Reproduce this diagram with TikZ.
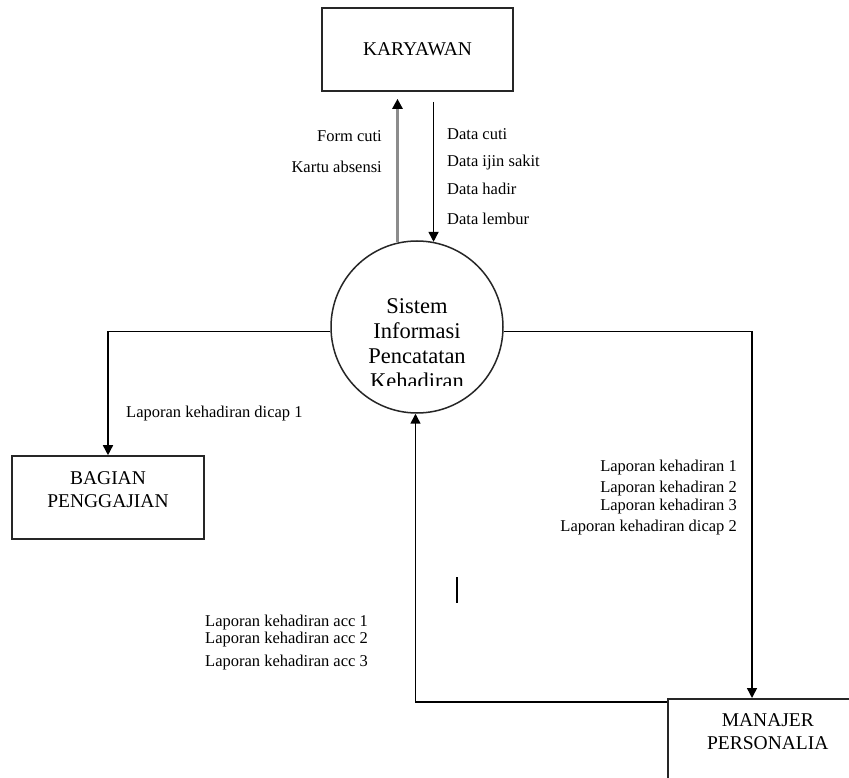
\documentclass[tikz,border=0pt]{standalone}
\usepackage{fontspec}
\setmainfont{Liberation Serif}
\usetikzlibrary{arrows.meta,calc}
\tikzset{
  box/.style={draw=black!85, line width=1.6pt, rectangle, inner sep=0pt},
  big/.style={font=\fontsize{19.5}{23.5}\selectfont},
  lbl/.style={font=\fontsize{16.5}{20}\selectfont, inner sep=0pt},
  flow/.style={line width=1.5pt, -{Triangle[length=10pt,width=10pt]}},
  flowg/.style={draw=black!45, line width=2.8pt, -{Triangle[length=10pt,width=10pt,color=black]}},
}
\begin{document}
\begin{tikzpicture}[x=1pt,y=-1pt]
\useasboundingbox (0,0) rectangle (849,778);
\fill[white] (0,0) rectangle (849,778);

% entities
\node[box,big,minimum width=191pt,minimum height=83pt] (kar) at (417.5,49.5) {KARYAWAN};
\node[box,big,minimum width=192pt,minimum height=83pt,align=center,text depth=16pt] (bag) at (108,497.5) {BAGIAN\\PENGGAJIAN};
\node[box, anchor=north west, minimum width=200pt, minimum height=100pt,
  label={[big, align=center, anchor=north, inner sep=0pt, yshift=-15pt]north:MANAJER\\PERSONALIA}] (man) at (667,698) {};

% process
\node[circle, draw=black!85, line width=1.5pt, minimum size=172pt, inner sep=0pt] (sys) at (417,327) {};
\begin{scope}
  \clip (320,230) rectangle (520,385.5);
  \node[font=\fontsize{22.5}{25}\selectfont, align=center, inner sep=0pt] (systxt) at (417,344) {Sistem\\Informasi\\Pencatatan\\Kehadiran};
\end{scope}

% flows
\draw[flowg, shorten >=7pt] (sys.103) -- (sys.103 |- kar.south);
\draw[flow, shorten <=10pt] (sys.79 |- kar.south) -- (sys.79);
\draw[flow] (sys.183) -| (bag.north);
\coordinate (manin) at (752,698);
\draw[flow] (sys.357) -| (manin);
\coordinate (manout) at (667,702);
\draw[flow] (manout) -| (sys.269);

% labels
\node[lbl, anchor=base east] (l1) at (382,142) {Form cuti};
\node[lbl, anchor=base east] (l2) at (382,173) {Kartu absensi};
\node[lbl, anchor=base west] (l3) at (447,140) {Data cuti};
\node[lbl, anchor=base west] (l4) at (447,167) {Data ijin sakit};
\node[lbl, anchor=base west] (l5) at (447,195) {Data hadir};
\node[lbl, anchor=base west] (l6) at (447,225) {Data lembur};
\node[lbl, anchor=base west] (l7) at (126,417) {Laporan kehadiran dicap 1};
\node[lbl, anchor=base east] (r1) at (737,471) {Laporan kehadiran 1};
\node[lbl, anchor=base east] (r2) at (737,492) {Laporan kehadiran 2};
\node[lbl, anchor=base east] (r3) at (737,510) {Laporan kehadiran 3};
\node[lbl, anchor=base east] (r4) at (737,531) {Laporan kehadiran dicap 2};
\node[lbl, anchor=base west] (a1) at (205,626) {Laporan kehadiran acc 1};
\node[lbl, anchor=base west] (a2) at (205,643) {Laporan kehadiran acc 2};
\node[lbl, anchor=base west] (a3) at (205,666) {Laporan kehadiran acc 3};

% stray cursor mark
\draw[line width=2.5pt] (457,577) -- (457,603);
\end{tikzpicture}
\end{document}
